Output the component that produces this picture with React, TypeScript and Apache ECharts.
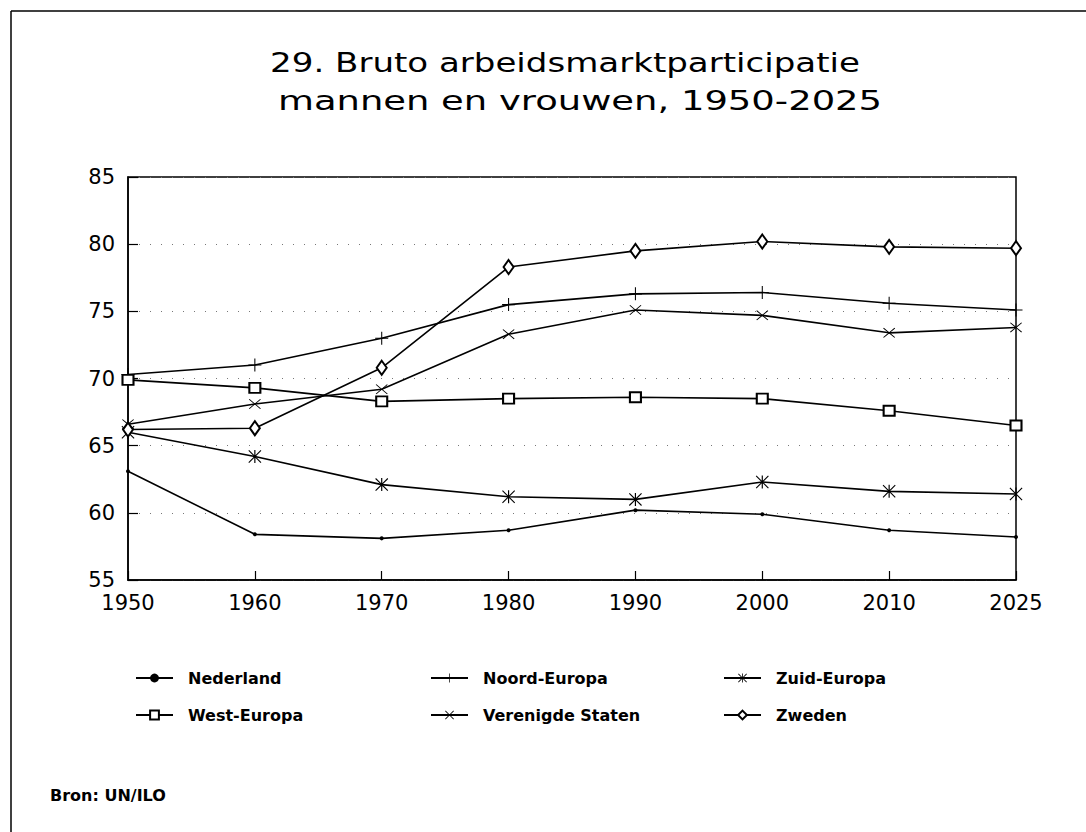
import React, { useEffect, useRef } from "react";
import * as echarts from "echarts";

const years = ["1950", "1960", "1970", "1980", "1990", "2000", "2010", "2025"];
const nederland = [63.1, 58.4, 58.1, 58.7, 60.2, 59.9, 58.7, 58.2];
const noordEuropa = [70.3, 71.0, 73.0, 75.5, 76.3, 76.4, 75.6, 75.1];
const zuidEuropa = [66.0, 64.2, 62.1, 61.2, 61.0, 62.3, 61.6, 61.4];
const westEuropa = [69.9, 69.3, 68.3, 68.5, 68.6, 68.5, 67.6, 66.5];
const verenigdeStaten = [66.6, 68.1, 69.2, 73.3, 75.1, 74.7, 73.4, 73.8];
const zweden = [66.2, 66.3, 70.8, 78.3, 79.5, 80.2, 79.8, 79.7];

const titleLine1 = "29. Bruto arbeidsmarktparticipatie";
const titleLine2 = "mannen en vrouwen, 1950-2025";
const sourceText = "Bron: UN/ILO";

const PLUS = "path://M9.2,0H10.8V9.2H20V10.8H10.8V20H9.2V10.8H0V9.2H9.2Z";
const CROSS =
  "path://M0,1.2L1.2,0L10,8.8L18.8,0L20,1.2L11.2,10L20,18.8L18.8,20L10,11.2L1.2,20L0,18.8L8.8,10Z";
const STAR =
  "path://M0,1.2L1.2,0L10,8.8L18.8,0L20,1.2L11.2,10L20,18.8L18.8,20L10,11.2L1.2,20L0,18.8L8.8,10Z M9.1,0H10.9V20H9.1Z";

export default function App() {
  const ref = useRef<HTMLDivElement>(null);
  useEffect(() => {
    document.body.style.margin = "0";
    const chart = echarts.init(ref.current!, null, { renderer: "svg" });
    const font = "DejaVu Sans";
    const mk = (name: string, data: number[], symbol: string, size: any, empty = false) => ({
      name,
      type: "line",
      data,
      symbol,
      symbolSize: size,
      showSymbol: true,
      lineStyle: { color: "#000", width: 1.6 },
      itemStyle: { color: "#000", borderColor: "#000", borderWidth: empty ? 1.4 : 0 },
      emphasis: { disabled: true },
    });
    const legendBase = {
      orient: "vertical",
      top: 665,
      itemWidth: 37,
      itemHeight: 11,
      itemGap: 21,
      selectedMode: false,
      textStyle: { fontFamily: font, fontSize: 16, fontWeight: "bold", color: "#000", padding: [0, 0, 0, 10] },
    };
    chart.setOption({
      animation: false,
      backgroundColor: "#fff",
      grid: {
        left: 128,
        right: 70,
        top: 177,
        bottom: 252,
        show: true,
        borderColor: "#000",
        borderWidth: 1.5,
      },
      xAxis: {
        type: "category",
        data: years,
        boundaryGap: false,
        axisLine: { lineStyle: { color: "#000", width: 1.5 } },
        axisTick: { inside: true, length: 9, lineStyle: { color: "#000", width: 1.2 } },
        axisLabel: { fontFamily: font, fontSize: 21, color: "#000", margin: 12 },
        splitLine: { show: false },
      },
      yAxis: {
        type: "value",
        min: 55,
        max: 85,
        interval: 5,
        axisLine: { show: true, lineStyle: { color: "#000", width: 1.5 } },
        axisTick: { show: true, inside: true, length: 10, lineStyle: { color: "#000", width: 1.2 } },
        axisLabel: { fontFamily: font, fontSize: 21, color: "#000", margin: 13 },
        splitLine: { show: true, lineStyle: { color: "#777", width: 1, type: [1, 10] } },
      },
      legend: [
        { ...legendBase, left: 130, data: ["Nederland", "West-Europa"] },
        { ...legendBase, left: 425, data: ["Noord-Europa", "Verenigde Staten"] },
        { ...legendBase, left: 718, data: ["Zuid-Europa", "Zweden"] },
      ],
      series: [
        mk("Nederland", nederland, "circle", 4),
        mk("Noord-Europa", noordEuropa, PLUS, 13),
        mk("Zuid-Europa", zuidEuropa, STAR, 13),
        mk("West-Europa", westEuropa, "emptyRect", [11, 10], true),
        mk("Verenigde Staten", verenigdeStaten, CROSS, [12, 10]),
        mk("Zweden", zweden, "emptyDiamond", [10, 14], true),
      ],
      graphic: [
        {
          type: "line",
          shape: { x1: 11, y1: 11, x2: 1086, y2: 11 },
          style: { stroke: "#000", lineWidth: 1.5 },
        },
        {
          type: "line",
          shape: { x1: 11, y1: 11, x2: 11, y2: 832 },
          style: { stroke: "#000", lineWidth: 1.5 },
        },
        {
          type: "text",
          x: 565,
          y: 63,
          scaleX: 1.31,
          style: {
            text: titleLine1,
            fontFamily: font,
            fontSize: 26,
            fill: "#000",
            textAlign: "center",
            textVerticalAlign: "middle",
          },
        },
        {
          type: "text",
          x: 580,
          y: 101,
          scaleX: 1.42,
          style: {
            text: titleLine2,
            fontFamily: font,
            fontSize: 26,
            fill: "#000",
            textAlign: "center",
            textVerticalAlign: "middle",
          },
        },
        {
          type: "text",
          x: 50,
          y: 795,
          style: {
            text: sourceText,
            fontFamily: font,
            fontSize: 16,
            fontWeight: "bold",
            fill: "#000",
            textAlign: "left",
            textVerticalAlign: "middle",
          },
        },
      ],
    });
    return () => chart.dispose();
  }, []);
  return <div ref={ref} style={{ width: 1086, height: 832 }} />;
}
